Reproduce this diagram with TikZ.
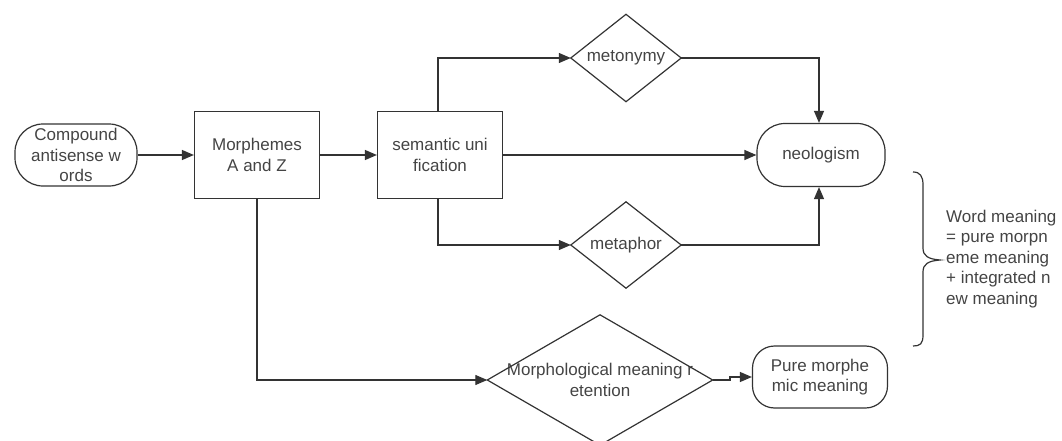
\documentclass[tikz,border=0pt]{standalone}
\usepackage{fontspec}
\setmainfont{Liberation Sans}
\usetikzlibrary{arrows.meta}
\definecolor{ln}{HTML}{333333}
\definecolor{tx}{HTML}{444444}
\tikzset{
  base/.style={draw=ln,line width=1.2pt,text=tx,align=center,font=\fontsize{17}{20.5}\selectfont,inner sep=0pt},
  boxnode/.style={base,rectangle},
  term/.style={base,rectangle,rounded corners=28pt},
  dia/.style={rectangle,inner sep=0pt,text=tx,align=center,font=\fontsize{17}{20.5}\selectfont},
  dline/.style={draw=ln,line width=1.2pt},
  arr/.style={draw=ln,line width=1.2pt,-{Triangle[length=12pt,width=10pt]}},
}
\begin{document}
\begin{tikzpicture}[x=1pt,y=-1pt]
\useasboundingbox (0,0) rectangle (1062,441);
% nodes
\node[term,minimum width=122pt,minimum height=62pt] (cmp) at (76,155) {Compound\\antisense w\\ords};
\node[boxnode,minimum width=125pt,minimum height=87pt] (mor) at (257,155) {Morphemes\\A and Z};
\node[boxnode,minimum width=125pt,minimum height=87pt] (sem) at (440,155) {semantic uni\\fication};
\node[dia,minimum width=110pt,minimum height=87pt] (meto) at (626,58) {metonymy};
\node[dia,minimum width=110pt,minimum height=86pt] (meta) at (626,245) {metaphor};
\node[term,minimum width=128pt,minimum height=63pt] (neo) at (821,155) {neologism};
\node[dia,minimum width=225pt,minimum height=130pt] (ret) at (600,380) {Morphological meaning r\\etention};
\node[term,minimum width=135pt,minimum height=62pt,rounded corners=22pt] (pure) at (820,377) {Pure morphe\\mic meaning};
% diamonds
\draw[dline] (meto.north)--(meto.east)--(meto.south)--(meto.west)--cycle;
\draw[dline] (meta.north)--(meta.east)--(meta.south)--(meta.west)--cycle;
\draw[dline] (ret.north)--(ret.east)--(ret.south)--(ret.west)--cycle;
% connectors
\draw[arr] (cmp.east) -- (mor.west);
\draw[arr] (mor.east) -- (sem.west);
\draw[arr] (sem.east) -- (neo.west);
\draw[arr] (sem.north -| 438,0) |- (meto.west);
\draw[arr] (sem.south -| 438,0) |- (meta.west);
\draw[arr] (meto.east) -| (neo.north -| 819,0);
\draw[arr] (meta.east) -| (neo.south -| 819,0);
\draw[arr] (mor.south) |- (ret.west);
\coordinate (st) at (730,380);
\draw[arr] (ret.east) -- (st) |- (pure.west);
% brace
\draw[ln,line width=1.2pt] (913,172) .. controls (920,172) and (923,176) .. (923,185) -- (923,248) .. controls (923,256) and (928,259) .. (940,260) .. controls (928,261) and (923,264) .. (923,272) -- (923,335) .. controls (923,344) and (920,346) .. (913,346);
\node[anchor=west,align=left,text=tx,inner sep=0pt,font=\fontsize{17}{20.5}\selectfont] (wm) at (946,259) {Word meaning\\= pure morpn\\eme meaning\\+ integrated n\\ew meaning};
\end{tikzpicture}
\end{document}
